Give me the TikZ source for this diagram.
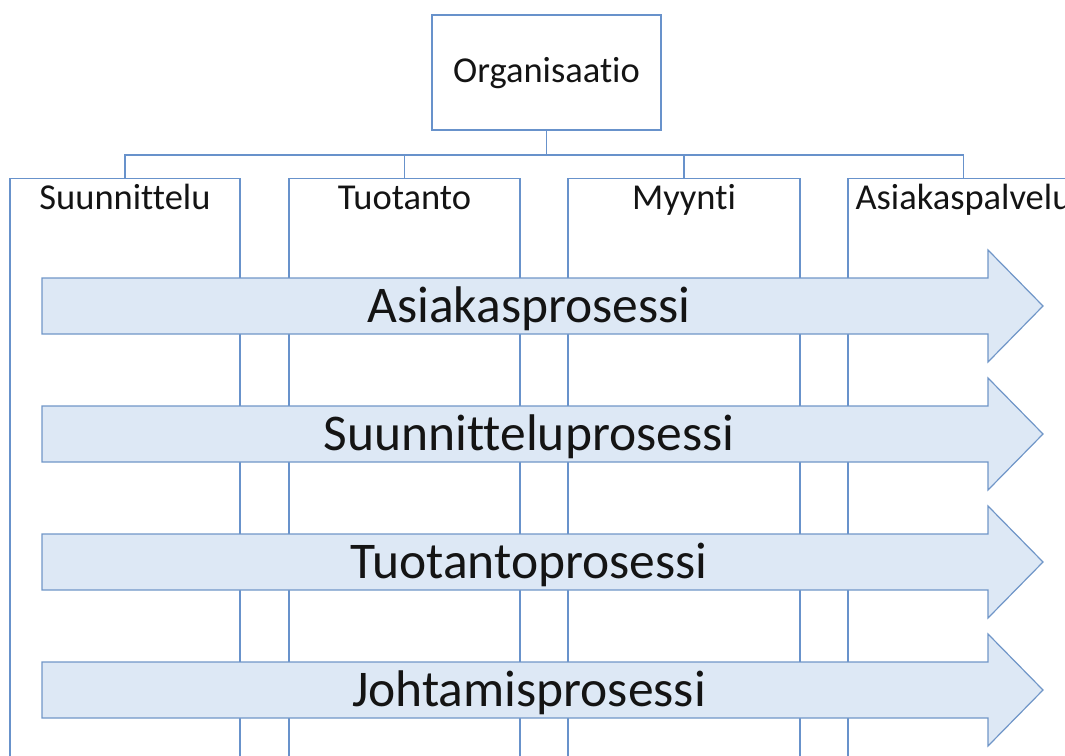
\documentclass[tikz,border=0pt]{standalone}
\usepackage{fontspec}
\setmainfont{Carlito}[Ligatures={NoCommon}]
\definecolor{lineblue}{RGB}{104,146,203}
\definecolor{arrowfill}{RGB}{221,232,245}
\definecolor{arrowline}{RGB}{112,150,200}
\begin{document}
\begin{tikzpicture}[x=1pt,y=-1pt,
  box/.style={draw=lineblue, line width=1.3pt, fill=white, inner sep=0pt},
  col/.style={draw=lineblue, line width=1.3pt, minimum height=640pt, anchor=north, inner sep=0pt},
  hdr/.style={font=\fontsize{36.5}{40}\selectfont, anchor=base, text=black!92},
  link/.style={draw=lineblue, line width=1.3pt},
  procarrow/.style={draw=arrowline, fill=arrowfill, line width=1.2pt, line join=miter},
  big/.style={font=\fontsize{51.5}{56}\selectfont, anchor=base, text=black!92}]
\useasboundingbox (0,0) rectangle (1065,755);
\clip (0,0) rectangle (1065,755);
% top box
\node[box, minimum width=229pt, minimum height=115pt] (org) at (546.5,72.5) {};
\node[hdr] (orgt) at (546.5,82) {Organisaatio};
% columns
\node[col, minimum width=230pt] (c1) at (125,178) {};
\node[col, minimum width=231pt] (c2) at (404.5,178) {};
\node[col, minimum width=232pt] (c3) at (684,178) {};
\node[col, minimum width=231pt] (c4) at (963.5,178) {};
\node[hdr] (t1) at (125,209) {Suunnittelu};
\node[hdr] (t2) at (404.5,209) {Tuotanto};
\node[hdr] (t3) at (684,209) {Myynti};
\node[hdr] (t4) at (963.5,209) {Asiakaspalvelu};
% connectors
\coordinate (bus) at (546.5,155);
\draw[link] (org.south) -- (bus);
\draw[link] (c1.north) |- (bus) -| (c4.north);
\draw[link] (c2.north) |- (bus);
\draw[link] (c3.north) |- (bus);
% process arrows
\foreach \yc/\txt [count=\i] in {306/Asiakasprosessi, 434/Suunnitteluprosessi, 562/Tuotantoprosessi, 690/Johtamisprosessi} {
  \draw[procarrow] (42,\yc-28) -- (988,\yc-28) -- (988,\yc-56) -- (1043,\yc) -- (988,\yc+56) -- (988,\yc+28) -- (42,\yc+28) -- cycle;
  \node[big] (p\i) at (529,\yc+16) {\txt};
}
\end{tikzpicture}
\end{document}
